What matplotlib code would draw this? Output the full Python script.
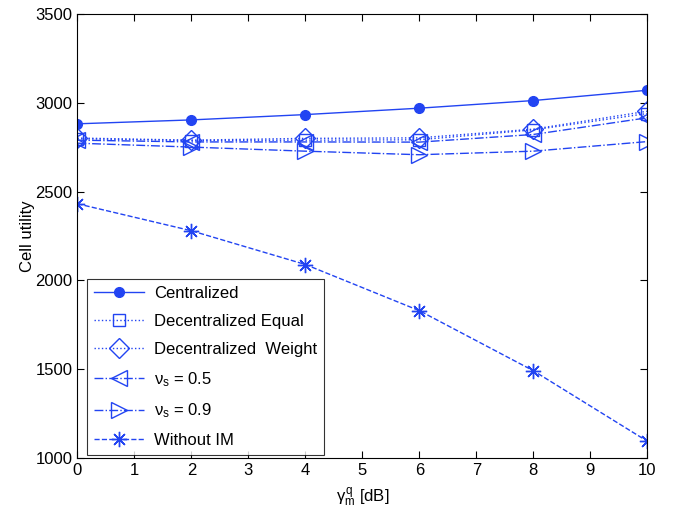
import matplotlib
matplotlib.use("Agg")
import matplotlib.pyplot as plt
import numpy as np

plt.rcParams['font.family'] = ['Liberation Sans', 'DejaVu Sans']
plt.rcParams['mathtext.fontset'] = 'custom'
plt.rcParams['mathtext.rm'] = 'Liberation Sans'
plt.rcParams['mathtext.it'] = 'Liberation Sans'
plt.rcParams['mathtext.bf'] = 'Liberation Sans:bold'

# data
gamma = [0, 2, 4, 6, 8, 10]
centralized = [2882, 2904, 2934, 2970, 3013, 3071]
dec_equal = [2798, 2788, 2790, 2792, 2848, 2940]
dec_weight = [2802, 2790, 2800, 2803, 2852, 2953]
nu_05 = [2790, 2780, 2780, 2779, 2822, 2916]
nu_09 = [2773, 2751, 2728, 2708, 2728, 2782]
without_im = [2432, 2280, 2090, 1830, 1492, 1095]

color = '#2244f2'

fig = plt.figure(figsize=(6.85, 5.2), dpi=100)
ax = fig.add_axes([0.113, 0.119, 0.832, 0.854])

ax.plot(gamma, centralized, '-', color=color, lw=1, marker='o', ms=7, label='Centralized')
ax.plot(gamma, dec_equal, ':', color=color, lw=1, marker='s', ms=8, mfc='none', label='Decentralized Equal')
ax.plot(gamma, dec_weight, ':', color=color, lw=1, marker='D', ms=10, mfc='none', label='Decentralized  Weight')
ax.plot(gamma, nu_05, '-.', color=color, lw=1, marker='<', ms=11, mfc='none', label=r'$\nu_s$ = 0.5')
ax.plot(gamma, nu_09, '-.', color=color, lw=1, marker='>', ms=11, mfc='none', label=r'$\nu_s$ = 0.9')
ax.plot(gamma, without_im, '--', color=color, lw=1, marker=(8, 2, 0), ms=11, label='Without IM')

ax.set_xlim(0, 10)
ax.set_ylim(1000, 3500)
ax.set_xticks(np.arange(0, 11, 1))
ax.set_yticks(np.arange(1000, 3501, 500))
ax.tick_params(direction='in', top=True, right=True, labelsize=12, length=5)
ax.set_xlabel(r'$\gamma_m^q$ [dB]', fontsize=12, labelpad=6)
ax.set_ylabel('Cell utility', fontsize=12, labelpad=0)

leg = ax.legend(loc='upper left', bbox_to_anchor=(0.017, 0.403), fontsize=12,
                frameon=True, fancybox=False, edgecolor='black', handlelength=3.0,
                labelspacing=0.78, borderaxespad=0, borderpad=0.4, handletextpad=0.6)
leg.get_frame().set_linewidth(0.8)

fig.savefig('out.png', dpi=100)
